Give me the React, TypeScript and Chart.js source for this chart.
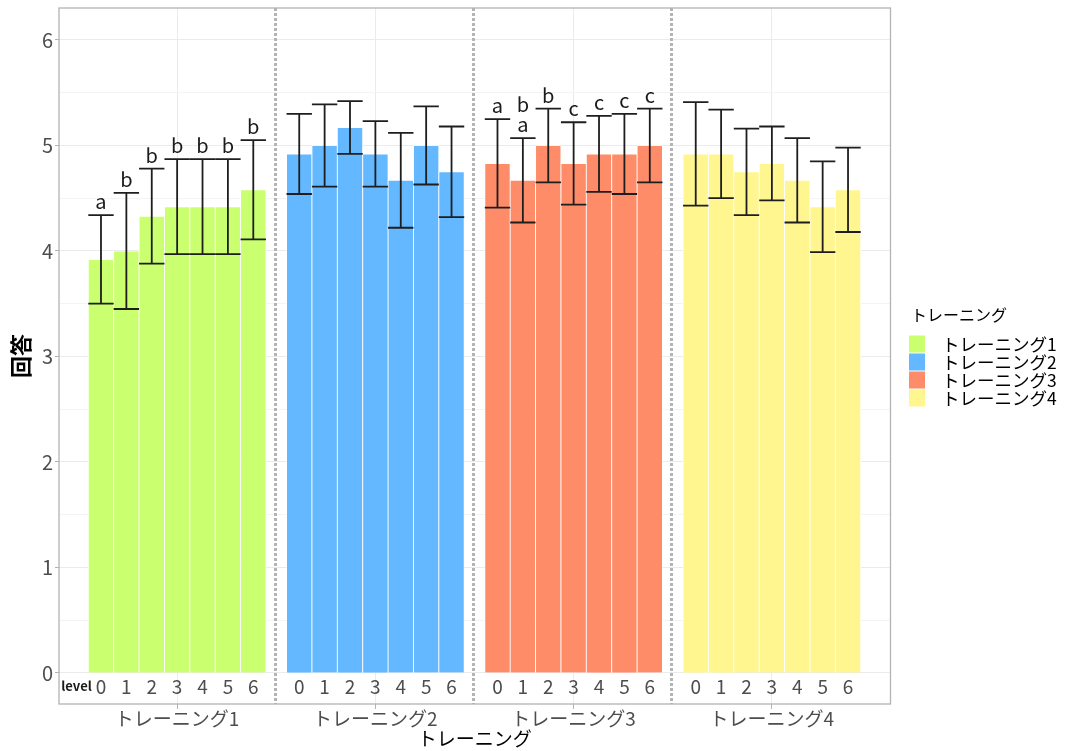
import React, { useEffect, useRef } from 'react';
import { Chart, registerables } from 'chart.js';

Chart.register(...registerables);

const FONT = '"Noto Sans CJK JP", "Noto Sans", sans-serif';

const groups = ['トレーニング1', 'トレーニング2', 'トレーニング3', 'トレーニング4'];
const levels = ['0', '1', '2', '3', '4', '5', '6'];
const colors = ['#CAFF70', '#63B8FF', '#FF8C69', '#FFF68F'];

const means1 = [3.92, 4.0, 4.33, 4.42, 4.42, 4.42, 4.58];
const means2 = [4.92, 5.0, 5.17, 4.92, 4.67, 5.0, 4.75];
const means3 = [4.83, 4.67, 5.0, 4.83, 4.92, 4.92, 5.0];
const means4 = [4.92, 4.92, 4.75, 4.83, 4.67, 4.42, 4.58];

const err1 = [0.42, 0.55, 0.45, 0.45, 0.45, 0.45, 0.47];
const err2 = [0.38, 0.39, 0.25, 0.31, 0.45, 0.37, 0.43];
const err3 = [0.42, 0.4, 0.35, 0.39, 0.36, 0.38, 0.35];
const err4 = [0.49, 0.42, 0.41, 0.35, 0.4, 0.43, 0.4];

const letters1 = ['a', 'b', 'b', 'b', 'b', 'b', 'b'];
const letters2 = ['', '', '', '', '', '', ''];
const letters3 = ['a', 'b\na', 'b', 'c', 'c', 'c', 'c'];
const letters4 = ['', '', '', '', '', '', ''];

const yTicks = [0, 0.5, 1, 1.5, 2, 2.5, 3, 3.5, 4, 4.5, 5, 5.5, 6];

const means = [means1, means2, means3, means4];
const errs = [err1, err2, err3, err4];
const letters = [letters1, letters2, letters3, letters4];

// layout constants (axis geometry)
const PITCH = 7.81; // distance between group starts, in bar units
const SEP_OFFSET = 0.96;
const X_MIN = -1.654;
const X_MAX = 3 * PITCH + 6 + 1.673;
const Y_MIN = -0.294;
const Y_MAX = 6.303;

const overlayPlugin = {
  id: 'overlay',
  afterDatasetsDraw(chart: any) {
    const { ctx, chartArea: a, scales } = chart;
    const xs = scales.x;
    const ys = scales.y;
    ctx.save();
    // dotted separators
    ctx.strokeStyle = '#b4b4b4';
    ctx.lineWidth = 3;
    ctx.setLineDash([3, 2]);
    for (let g = 1; g < groups.length; g++) {
      const px = Math.round(xs.getPixelForValue(g * PITCH - SEP_OFFSET)) + 0.5;
      ctx.beginPath();
      ctx.moveTo(px, a.top);
      ctx.lineTo(px, a.bottom);
      ctx.stroke();
    }
    ctx.setLineDash([]);

    // error bars + letters + level labels
    chart.data.datasets.forEach((_ds: any, di: number) => {
      const meta = chart.getDatasetMeta(di);
      meta.data.forEach((bar: any, i: number) => {
        const m = means[di][i];
        const e = errs[di][i];
        const top = ys.getPixelForValue(m + e);
        const bot = ys.getPixelForValue(m - e);
        const cx = bar.x;
        const hw = bar.width / 2;
        ctx.strokeStyle = '#1e1e1e';
        ctx.lineWidth = 1.8;
        ctx.beginPath();
        ctx.moveTo(cx, top);
        ctx.lineTo(cx, bot);
        ctx.moveTo(cx - hw, top);
        ctx.lineTo(cx + hw, top);
        ctx.moveTo(cx - hw, bot);
        ctx.lineTo(cx + hw, bot);
        ctx.stroke();

        const lab = letters[di][i];
        if (lab) {
          const lines = lab.split('\n').reverse();
          ctx.fillStyle = '#1a1a1a';
          ctx.font = `20px ${FONT}`;
          ctx.textAlign = 'center';
          ctx.textBaseline = 'alphabetic';
          lines.forEach((t: string, k: number) => {
            ctx.fillText(t, cx, top - 6 - k * 20);
          });
        }

        ctx.fillStyle = '#4d4d4d';
        ctx.font = `19px ${FONT}`;
        ctx.textAlign = 'center';
        ctx.textBaseline = 'middle';
        ctx.fillText(levels[i], cx, a.bottom - 17);
      });
    });

    // "level" label
    ctx.fillStyle = '#1a1a1a';
    ctx.font = `bold 13px ${FONT}`;
    ctx.textAlign = 'center';
    ctx.textBaseline = 'middle';
    ctx.fillText('level', a.left + 17.5, a.bottom - 18);

    // panel border
    ctx.strokeStyle = '#b3b3b3';
    ctx.lineWidth = 1.3;
    ctx.strokeRect(a.left, a.top, a.right - a.left, a.bottom - a.top);
    ctx.restore();
  },
  afterDraw(chart: any) {
    const { ctx } = chart;
    ctx.save();
    ctx.fillStyle = '#000';
    ctx.font = `16px ${FONT}`;
    ctx.textAlign = 'left';
    ctx.textBaseline = 'middle';
    ctx.fillText('トレーニング', 911, 315);
    groups.forEach((g, k) => {
      const cy = 344 + k * 18;
      ctx.fillStyle = colors[k];
      ctx.fillRect(909, cy - 8.5, 16, 17);
      ctx.fillStyle = '#000';
      ctx.font = `17.5px ${FONT}`;
      ctx.fillText(g, 942, cy);
    });
    ctx.restore();
  },
};

export default function App() {
  const ref = useRef<HTMLCanvasElement>(null);
  useEffect(() => {
    const datasets = groups.map((g, gi) => ({
      label: g,
      data: means[gi].map((v, i) => ({ x: gi * PITCH + i, y: v })),
      backgroundColor: colors[gi],
      borderColor: '#ffffff',
      borderWidth: 0.8,
      borderSkipped: 'start' as const,
      grouped: false,
      categoryPercentage: 1,
      barPercentage: 1,
    }));
    const chart = new Chart(ref.current!, {
      type: 'bar',
      data: { datasets },
      options: {
        animation: false,
        responsive: false,
        maintainAspectRatio: false,
        layout: { padding: { top: 8, right: 1065 - 890.5, left: 0, bottom: 0 } },
        plugins: { legend: { display: false }, tooltip: { enabled: false } },
        scales: {
          x: {
            type: 'linear',
            min: X_MIN,
            max: X_MAX,
            offset: false,
            afterBuildTicks: (s: any) => {
              s.ticks = groups.map((_g, g) => ({ value: g * PITCH + 3 }));
            },
            afterFit: (s: any) => {
              s.height = 47;
              s.paddingLeft = 0;
              s.paddingRight = 0;
            },
            ticks: {
              callback: (_v: any, i: number) => groups[i],
              font: { family: FONT, size: 19 },
              color: '#4d4d4d',
              padding: -2,
              autoSkip: false,
              maxRotation: 0,
            },
            grid: { offset: false, color: '#ebebeb', tickColor: '#b3b3b3', tickLength: 5, lineWidth: 1 },
            border: { display: false },
            title: {
              display: true,
              text: 'トレーニング',
              font: { family: FONT, size: 19 },
              color: '#000',
              padding: { top: 0, bottom: 1 },
            },
          },
          y: {
            type: 'linear',
            min: Y_MIN,
            max: Y_MAX,
            afterBuildTicks: (s: any) => {
              s.ticks = yTicks.map((v) => ({ value: v }));
            },
            afterFit: (s: any) => {
              s.width = 59;
              s.paddingTop = 0;
              s.paddingBottom = 0;
            },
            ticks: {
              callback: (v: any) => (Number.isInteger(v) ? String(v) : ''),
              font: { family: FONT, size: 20 },
              color: '#4d4d4d',
              padding: 2,
              autoSkip: false,
            },
            grid: {
              color: (c: any) => (Number.isInteger(c.tick?.value) ? '#ebebeb' : '#f4f4f4'),
              tickColor: (c: any) => (Number.isInteger(c.tick?.value) ? '#b3b3b3' : 'rgba(0,0,0,0)'),
              tickLength: 4,
            },
            border: { display: false },
            title: {
              display: true,
              text: '回答',
              font: { family: FONT, size: 22, weight: 'bold' },
              color: '#000',
              padding: { top: 7, bottom: 0 },
            },
          },
        },
      },
      plugins: [overlayPlugin],
    } as any);
    return () => chart.destroy();
  }, []);
  return (
    <div style={{ position: 'fixed', left: 0, top: 0, width: 1065, height: 751, background: '#fff' }}>
      <canvas ref={ref} width={1065} height={751} style={{ width: 1065, height: 751, display: 'block' }} />
    </div>
  );
}
